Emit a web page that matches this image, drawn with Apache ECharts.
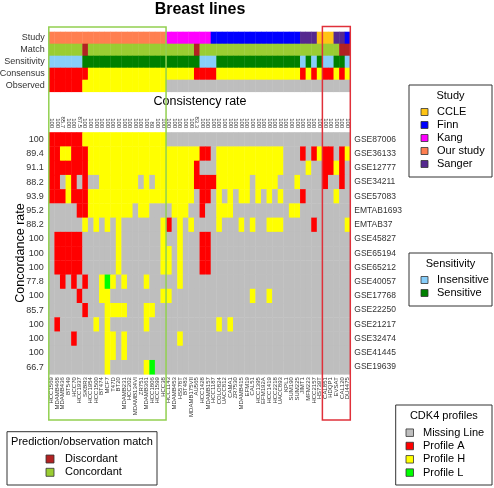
<!DOCTYPE html>
<html><head><meta charset="utf-8">
<script src="https://cdn.jsdelivr.net/npm/echarts@6/dist/echarts.min.js"></script>
<style>html,body{margin:0;padding:0;background:#fff}#c{width:494px;height:488px}</style>
</head><body><div id="c"></div>
<script>
// ---------------- data ----------------
const cellLines = ["HCC1569","MDAMB468","MDAMB436","BT549","HCC70","HCC1937","SKBR3","HCC1954","HCC1500","BT474","MCF7","T47D","BT20","MDAMB231","HCC202","MDAMB134VI","ZR751","MDAMB361","HCC1806","HCC1599","HCC38",
  "HCC1143","MDAMB453","HS578T","BT483","MDAMB175VII","AU565","HCC1428","MDAMB157","HCC1187","COLO824","UACC812","CAMA1","ZR7530","MDAMB415","EFM19","CAL51","HCC1395","EFM192A","HCC1419","HCC2218","UACC893","KPL1","SUM190","SUM225","JIMT1","MFM223","HCC2157","HS739T",
  "CAL851","HDQP1","EVSAT","CAL120","DU4475"];
const consistency = ["100","100","85.7","100","100","87.5","100","100","100","100","100","100","100","100","100","100","100","100","80","100","100",
  "100","100","100","100","100","83.3","100","100","100","100","100","100","100","100","100","100","100","100","100","100","100","100","100","100","100","100","100","100",
  "100","100","100","100","100"];
const datasets = ["GSE87006","GSE36133","GSE12777","GSE34211","GSE57083","EMTAB1693","EMTAB37","GSE45827","GSE65194","GSE65212","GSE40057","GSE17768","GSE22250","GSE21217","GSE32474","GSE41445","GSE19639"];
const concordance = ["100","89.4","91.1","88.2","93.9","95.2","88.2","100","100","100","77.8","100","85.7","100","100","100","66.7"];
const annoNames = ["Study","Match","Sensitivity","Consensus","Observed"];
// one letter per cell line (groups of 5 columns)
const study       = "OOOOO OOOOO OOOOO OOOOO OKKKK KKKKF FFFFF FFFFF FFFFF SSSCC CSSF";
const match       = "CCCCC CDCCC CCCCC CCCCC CCCCC CDCCC CCCCC CCCCC CCCCC CCCCC CCDD";
const sensitivity = "IIIII ISSSS SSSSS SSSSS SSSSS SSIII SSSSS SSSSS SSSSS ISISI ISSI";
const consensus   = "AAAAA AAHHH HHHHH HHHHH HHHHH HAAAA HHHHH HHHHH HHHHH AHAHA AHAH";
const observed    = "AAAAA AHHHH HHHHH HHHHH HMMMM MMMMM MMMMM MMMMM MMMMM MMMMM MMMM";
// CDK4 profile per dataset (M missing, A profile A, H profile H, L profile L)
const profiles = [
  "AAAAA AHHHH HHHHH HHHHH HMMMM MMMMM MMMMM MMMMM MMMMM MMMMM MMMM",
  "AAHHA AAHHH HHHHH HHHHH HHHHH HHAAM HHHHH HHHHH HHMMM AMAHA AMAH",
  "AAAAA AAHHH HHHHH HHHHH HHHHH HAMMM HHHHH HHHHH HHMMM MHMMA AHAM",
  "AAMHA MAMMH HHHHH HMHMH HHHHH HAAAA HHHHH HMHHH HMMMH MMMMA MMAM",
  "AAAHA AAHHH HHHHH HHHHH HHHHH HMAAM HMHMH HMHMH MHMMM AMMMM MHMM",
  "MMMMM AAHHH HHHHH MHHMM MMHHH MMAMM HHHMM MMMMM MMMHH MMMMM MMMM",
  "MMMMM MHMHM HMHMM MMMMM HAMHM HMMMM HMMMH MHMMH HHMMM MMAMM MMMH",
  "MAAAA AMMMM MMHMM MMMMM HMMHM MMAAM MMMMM MMMMM MMMMM MMMMM MMMM",
  "MAAAA AMMMM MMHMM MMMMM HHMHM MMAAM MMMMM MMMMM MMMMM MMMMM MMMM",
  "MAAAA AMMMM MMHMM MMMMM HHMHM MMAAM MMMMM MMMMM MMMMM MMMMM MMMM",
  "MMAMA MAMMH LHMHM MMHMM MMMHM MMMMM MMMMM MMMMM MMMMM MMMMM MMMM",
  "MMMMM AMMMH HMMMM MMMMM HHMMM MMMMM MMMMM MHMMH MMMMM MMMMM MMMM",
  "MMMMM MAMMM HHHHM MMHHM MMMMM MMMMM MMMMM MMMMM MMMMM MMMMM MMMM",
  "MAMMM MMMHM HMMMM MMHMM MMMMM MMMMM HMHMM MMMMM MMMMM MMMMM MMMM",
  "MMMMA MMMMM HHMHM MMMMM MMMHM MMMMM MMMMM MMMMM MMMMM MMMMM MMMM",
  "MMMMM MMMMM HHMHM MMMMM MMMMM MMMMM MMMMM MMMMM MMMMM MMMMM MMMM",
  "MMMMM MMMMM HMMMM MMHLM MMMMM MMMMM MMMMM MMMMM MMMMM MMMMM MMMM"
];
const studyLegend = [["CCLE","C"],["Finn","F"],["Kang","K"],["Our study","O"],["Sanger","S"]];
const sensLegend = [["Insensitive","I"],["Sensitive","S"]];
const profileLegend = [["Missing Line","M"],["Profile A","A"],["Profile H","H"],["Profile L","L"]];
const matchLegend = [["Discordant","D"],["Concordant","C"]];

// ---------------- styles ----------------
const FONT = "'Liberation Sans', Arial, Helvetica, sans-serif";
const PROFILE_COL = {M:"#BEBEBE", A:"#FF0000", H:"#FFFF00", L:"#00FF00"};
const STUDY_COL = {C:"#FFC414", F:"#0000FF", K:"#FF00FF", O:"#FF7F50", S:"#55288F"};
const MATCH_COL = {D:"#B22222", C:"#9ACD32"};
const SENS_COL = {I:"#87CEFA", S:"#008000"};

const clean = s => s.replace(/ /g, "");

function buildCells(rows, palettes) {
  const data = [], colors = [];
  rows.forEach((s, r) => {
    const t = clean(s);
    for (let c = 0; c < t.length; c++) { data.push([c, r]); colors.push(palettes[r][t[c]]); }
  });
  return {data, colors};
}
function rectRenderer(colors) {
  return function (params, api) {
    const p = api.coord([api.value(0), api.value(1)]);
    const s = api.size([1, 1]);
    return {type: "rect", silent: true,
      shape: {x: p[0] - s[0] / 2, y: p[1] - s[1] / 2, width: s[0] + 0.4, height: s[1] + 0.4},
      style: {fill: colors[params.dataIndex]}};
  };
}

const anno = buildCells([study, match, sensitivity, consensus, observed],
  [STUDY_COL, MATCH_COL, SENS_COL, PROFILE_COL, PROFILE_COL]);
const heat = buildCells(profiles, profiles.map(() => PROFILE_COL));

const chart = echarts.init(document.getElementById("c"), null, {renderer: "canvas"});
const GL = 48.8, GW = 301.5;
const hiddenAxis = {axisLine: {show: false}, axisTick: {show: false}, splitLine: {show: false}};
const option = {
  animation: false,
  backgroundColor: "#fff",
  grid: [
    {left: GL, top: 31.7, width: GW, height: 60, containLabel: false, outerBoundsMode: "none"},
    {left: GL, top: 132.2, width: GW, height: 242, containLabel: false, outerBoundsMode: "none"}
  ],
  xAxis: [
    Object.assign({type: "category", gridIndex: 0, data: cellLines, axisLabel: {show: false}}, hiddenAxis),
    Object.assign({type: "category", gridIndex: 1, data: cellLines, position: "bottom",
      axisLabel: {interval: 0, rotate: 90, fontSize: 6, margin: 3, color: "#333", fontFamily: FONT}}, hiddenAxis),
    Object.assign({type: "category", gridIndex: 1, data: cellLines, position: "top",
      axisLabel: {interval: 0, rotate: 90, fontSize: 6, margin: 4, color: "#333", fontFamily: FONT,
        formatter: (v, i) => consistency[i]}}, hiddenAxis)
  ],
  yAxis: [
    Object.assign({type: "category", gridIndex: 0, data: annoNames, inverse: true,
      axisLabel: {interval: 0, fontSize: 9, margin: 4, color: "#333", fontFamily: FONT}}, hiddenAxis),
    Object.assign({type: "category", gridIndex: 1, data: datasets, inverse: true, position: "left",
      axisLabel: {interval: 0, fontSize: 9, margin: 5, color: "#333", fontFamily: FONT,
        formatter: (v, i) => concordance[i]}}, hiddenAxis),
    Object.assign({type: "category", gridIndex: 1, data: datasets, inverse: true, position: "right",
      axisLabel: {interval: 0, fontSize: 8.5, margin: 4, color: "#333", fontFamily: FONT}}, hiddenAxis)
  ],
  series: [
    {type: "custom", xAxisIndex: 0, yAxisIndex: 0, data: anno.data, renderItem: rectRenderer(anno.colors), silent: true},
    {type: "custom", xAxisIndex: 1, yAxisIndex: 1, data: heat.data, renderItem: rectRenderer(heat.colors), silent: true}
  ]
};
chart.setOption(option);

// ---------------- decorations computed from the axes ----------------
const px = i => chart.convertToPixel({xAxisIndex: 1}, i);
const cw = px(1) - px(0);
const greenL = px(0) - cw / 2, greenR = px(20) + cw / 2;
const redL = px(49) - cw / 2, redR = px(53) + cw / 2;

function txt(x, y, text, size, opts) {
  return Object.assign({type: "text", x: x, y: y, silent: true,
    style: Object.assign({text: text, fontSize: size, fontFamily: FONT, fill: "#000",
      align: "left", verticalAlign: "middle"}, (opts && opts.style) || {})},
    opts && opts.rotation ? {rotation: opts.rotation} : {});
}
function legendBox(box, title, titleY, items, palette, sqX, sqSize, lblX, y0, dy) {
  const els = [{type: "rect", silent: true, shape: {x: box[0], y: box[1], width: box[2], height: box[3]},
    style: {fill: "#fff", stroke: "#333", lineWidth: 1}}];
  els.push(txt(box[0] + box[2] / 2, titleY, title, 11, {style: {align: "center"}}));
  items.forEach((it, k) => {
    const y = y0 + k * dy;
    els.push({type: "rect", silent: true, shape: {x: sqX, y: y - sqSize / 2, width: sqSize, height: sqSize},
      style: {fill: palette[it[1]], stroke: "#333", lineWidth: 0.8}});
    els.push(txt(lblX, y, it[0], 11));
  });
  return els;
}

const graphics = [
  {type: "rect", silent: true, z: 50, shape: {x: greenL, y: 27, width: greenR - greenL, height: 393},
    style: {fill: "none", stroke: "#92D050", lineWidth: 1.5}},
  {type: "rect", silent: true, z: 50, shape: {x: redL, y: 26.5, width: redR - redL, height: 393.5},
    style: {fill: "none", stroke: "#E0303A", lineWidth: 1.5}},
  txt(200, 10, "Breast lines", 16, {style: {align: "center", fontWeight: "bold"}}),
  txt(200, 102, "Consistency rate", 12.5, {style: {align: "center"}}),
  txt(21, 253, "Concordance rate", 12.5, {style: {align: "center"}, rotation: Math.PI / 2})
]
  .concat(legendBox([409, 85, 83, 92], "Study", 96, studyLegend, STUDY_COL, 421, 7, 437, 112, 13))
  .concat(legendBox([409, 253, 83, 53], "Sensitivity", 264, sensLegend, SENS_COL, 421, 7, 437, 280, 13))
  .concat(legendBox([395.7, 405, 96.3, 80], "CDK4 profiles", 416, profileLegend, PROFILE_COL, 406, 7.5, 423, 432.7, 13.3))
  .concat(legendBox([7, 431.7, 150, 53.3], "Prediction/observation match", 442, matchLegend, MATCH_COL, 46, 8, 65, 459, 13.3));

chart.setOption({graphic: {elements: graphics}});
</script>
</body></html>
